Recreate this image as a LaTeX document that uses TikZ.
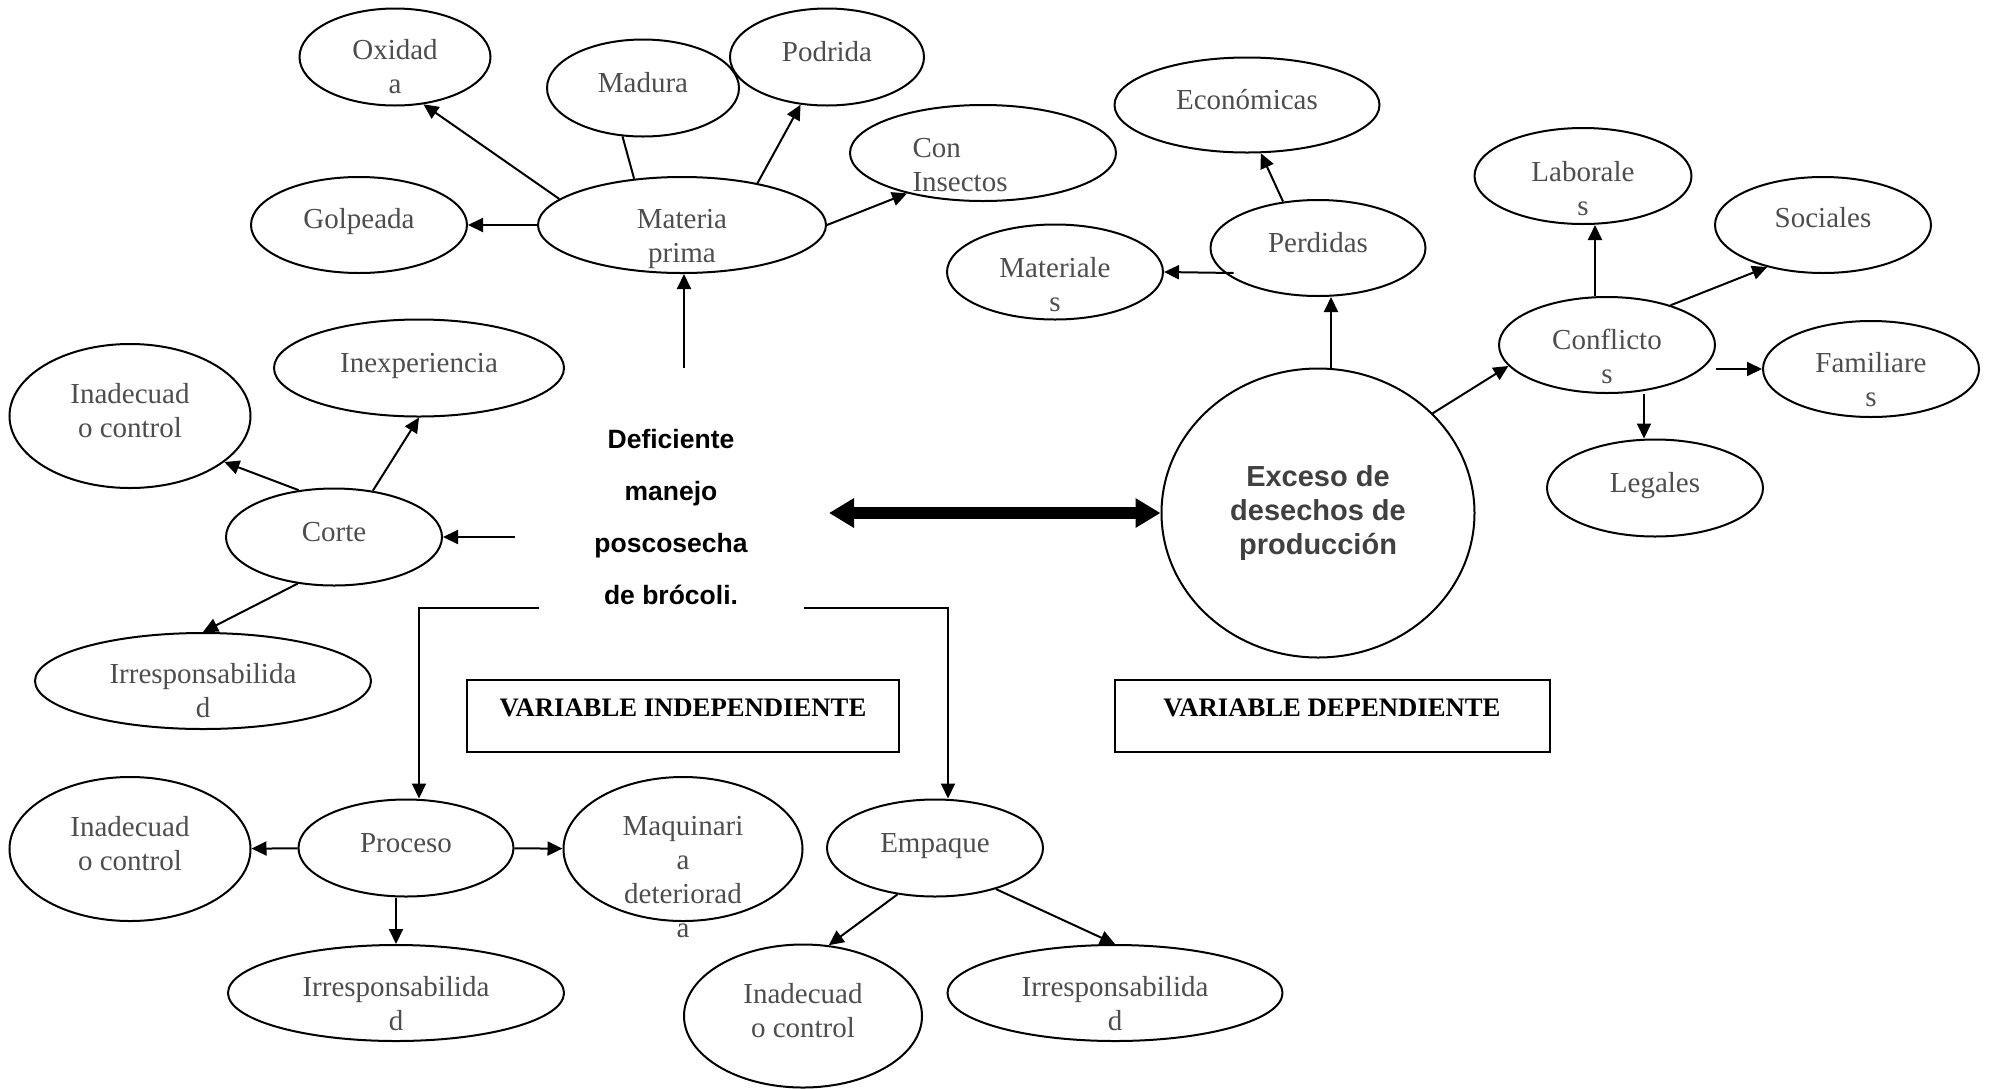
\documentclass[tikz,border=0pt]{standalone}
\usepackage{fontspec}
\setmainfont{Liberation Serif}
\setsansfont{Liberation Sans}
\usetikzlibrary{shapes.geometric,arrows.meta}
\definecolor{lblgray}{HTML}{4D4D4D}
\definecolor{excgray}{HTML}{404040}

\begin{document}
\begin{tikzpicture}[x=1pt,y=-1pt,
   oval/.style 2 args={draw,ellipse,line width=2pt,inner sep=0pt,minimum width=#1,minimum height=#2},
   lbl/.style={text=lblgray,font=\fontsize{29}{34}\selectfont,align=center},
   varbox/.style={draw,line width=2pt,font=\bfseries\fontsize{26.7}{30}\selectfont,
      text height=20pt,text depth=20pt,minimum height=72},
   conn/.style={line width=2pt,-{Triangle[length=15pt,width=14pt]}},
   bigarrow/.style={line width=12pt,{Triangle[length=25pt,width=28pt]}-{Triangle[length=25pt,width=28pt]}}]
\useasboundingbox (0,0) rectangle (1995,1088);

% materia prima
\node[oval={191}{97}] (ox) at (395,57) {};
\node[oval={192}{97}] (mad) at (643,88) {};
\node[oval={194}{97}] (pod) at (827,57) {};
\node[oval={266}{96}] (ins) at (983,153) {};
\node[oval={216}{96}] (golp) at (359,225) {};
\node[oval={288}{96}] (mp) at (682,225) {};
\node[lbl] (oxT) at ([yshift=-10pt]ox) {Oxidad\\a};
\node[lbl] (madT) at ([yshift=5pt]mad) {Madura};
\node[lbl] (podT) at ([yshift=5pt]pod) {Podrida};
\node[lbl,align=left,anchor=west] (insT) at ([xshift=-74pt,yshift=-12pt]ins) {Con\\Insectos};
\node[lbl] (golpT) at ([yshift=3pt]golp) {Golpeada};
\node[lbl] (mpT) at ([yshift=-14pt]mp) {Materia\\prima};

% corte
\node[oval={290}{97}] (inex) at (419,368) {};
\node[oval={241}{144}] (inad1) at (130,416) {};
\node[oval={216}{97}] (corte) at (334,537) {};
\node[oval={336}{96}] (irr1) at (203,681) {};
\node[lbl] (inexT) at ([yshift=2pt]inex) {Inexperiencia};
\node[lbl] (inad1T) at ([yshift=5pt]inad1) {Inadecuad\\o control};
\node[lbl] (corteT) at ([yshift=5pt]corte) {Corte};
\node[lbl] (irr1T) at ([yshift=-10pt]irr1) {Irresponsabilida\\d};

% proceso y empaque
\node[oval={215}{97}] (proc) at (406,848) {};
\node[oval={241}{144}] (inad2) at (130,849) {};
\node[oval={239}{144}] (maq) at (683,849) {};
\node[oval={336}{96}] (irr2) at (396,993) {};
\node[oval={216}{97}] (emp) at (935,848) {};
\node[oval={238}{143}] (inad3) at (803,1016) {};
\node[oval={335}{96}] (irr3) at (1115,993) {};
\node[lbl] (procT) at ([yshift=5pt]proc) {Proceso};
\node[lbl] (inad2T) at ([yshift=5pt]inad2) {Inadecuad\\o control};
\node[lbl] (maqT) at ([yshift=-28pt]maq) {Maquinari\\a\\deteriorad\\a};
\node[lbl] (irr2T) at ([yshift=-11pt]irr2) {Irresponsabilida\\d};
\node[lbl] (empT) at ([yshift=2pt]emp) {Empaque};
\node[lbl] (inad3T) at ([yshift=5pt]inad3) {Inadecuad\\o control};
\node[lbl] (irr3T) at ([yshift=-11pt]irr3) {Irresponsabilida\\d};

% variable dependiente
\node[oval={313}{289},text=excgray,font=\sffamily\bfseries\fontsize{29}{34}\selectfont,align=center] (exc) at (1318,513) {Exceso de\\desechos de\\producción};
\node[oval={265}{95}] (econ) at (1247,105) {};
\node[oval={216}{95}] (mat) at (1055,272) {};
\node[oval={215}{96}] (perd) at (1318,248) {};
\node[oval={217}{96}] (lab) at (1583,176) {};
\node[oval={216}{96}] (soc) at (1823,225) {};
\node[oval={216}{96}] (conf) at (1607,345) {};
\node[oval={216}{96}] (fam) at (1871,369) {};
\node[oval={216}{97}] (leg) at (1655,488) {};
\node[lbl] (econT) at ([yshift=5pt]econ) {Económicas};
\node[lbl] (matT) at ([yshift=-13pt]mat) {Materiale\\s};
\node[lbl] (perdT) at ([yshift=5pt]perd) {Perdidas};
\node[lbl] (labT) at ([yshift=-13pt]lab) {Laborale\\s};
\node[lbl] (socT) at ([yshift=7pt]soc) {Sociales};
\node[lbl] (confT) at ([yshift=-11pt]conf) {Conflicto\\s};
\node[lbl] (famT) at ([yshift=-11pt]fam) {Familiare\\s};
\node[lbl] (legT) at ([yshift=2pt]leg) {Legales};

% problema central
\node[font=\sffamily\bfseries\fontsize{26.5}{52}\selectfont,align=center] (def) at (671,517)
   {Deficiente\\manejo\\poscosecha\\de brócoli.};
\coordinate (defN) at (684,368);
\coordinate (defW) at (515,537);
\coordinate (defE) at (829,513);
\coordinate (defSW) at (539,608);
\coordinate (defSE) at (804,608);

\node[varbox,minimum width=432] (vi) at (683,716) {VARIABLE INDEPENDIENTE};
\node[varbox,minimum width=435] (vd) at (1332,716) {VARIABLE DEPENDIENTE};

% conectores
\draw[conn] (defN) -- (defN |- mp.south);
\draw[conn] (mp) -- (golp);
\draw[conn] (mp.168) -- (ox.-59);
\draw[line width=2pt] (mp.136) -- (mad.-113);
\draw[conn] (mp.29) -- (pod.-119);
\draw[conn] (mp.east) -- (ins.-152);

\draw[conn] (defW) -- (corte);
\draw[conn] (corte.127) -- (inad1.-26);
\draw[conn] (corte.50) -- (inex.south);
\draw[conn] (corte.-128) -- (irr1.north);

\draw[conn] (defSW) -| ([xshift=13pt]proc.north);
\draw[conn] (proc) -- (inad2);
\draw[conn] (proc) -- (maq);
\draw[conn] (irr2.north |- proc.south) -- (irr2.north);

\draw[conn] (defSE) -| ([xshift=13pt]emp.north);
\draw[conn] (emp.-129) -- (inad3.70);
\draw[conn] (emp.-34) -- (irr3.north);

\draw[bigarrow] (defE) -- (exc.west);
\draw[conn] ([xshift=13pt]exc.north) -- ([xshift=13pt]perd.south);
\draw[conn] (perd.127) -- (econ.-74);
\draw[conn] (perd.west) ++(24,25) -- (mat.east);
\draw[conn] (exc.41) -- (conf.-168);
\draw[conn] ([xshift=-12pt]conf.north) -- ([xshift=12pt]lab.south);
\draw[conn] (conf.32) -- (soc.-143);
\draw[conn] (conf.east |- fam.west) -- (fam.west);
\draw[conn] ([xshift=37pt]conf.south) -- ([xshift=-11pt]leg.north);
\end{tikzpicture}
\end{document}
